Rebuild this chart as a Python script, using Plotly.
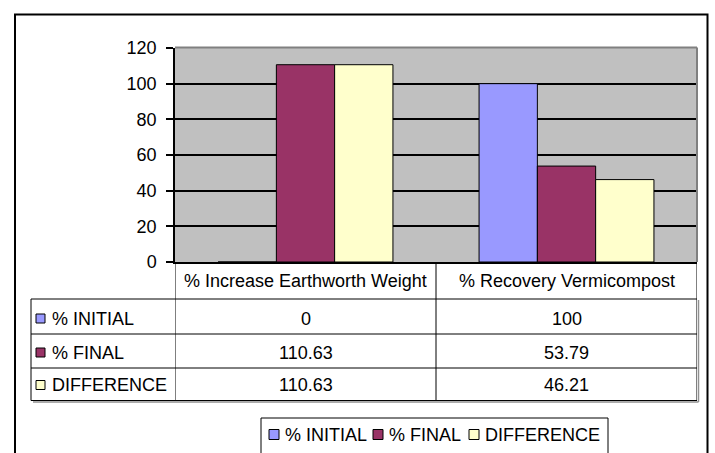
import plotly.graph_objects as go

# ---- data ----
categories = ["% Increase Earthworth Weight", "% Recovery Vermicompost"]
series_names = ["% INITIAL", "% FINAL", "DIFFERENCE"]
initial_vals = [0, 100]
final_vals = [110.63, 53.79]
difference_vals = [110.63, 46.21]
y_ticks = [0, 20, 40, 60, 80, 100, 120]

series_values = [initial_vals, final_vals, difference_vals]
series_colors = ["#9999FF", "#993366", "#FFFFCC"]

# ---- canvas geometry (pixels) ----
W, H = 715, 453
ML, MR, MT, MB = 175, 18, 48, 191
PW = W - ML - MR
PH = H - MT - MB
FONT = "Liberation Sans, Arial, sans-serif"
FS = 18


def fx(px):
    return (px - ML) / PW


def fy(py):
    return (H - MB - py) / PH


fig = go.Figure()
for name, vals, col in zip(series_names, series_values, series_colors):
    fig.add_trace(go.Bar(
        x=categories, y=vals, name=name,
        marker=dict(color=col, line=dict(color="black", width=1)),
        showlegend=False,
    ))

shapes = []
annotations = []


def line(x0, y0, x1, y1, color="black", width=1, xref="paper"):
    shapes.append(dict(type="line", xref=xref, yref="paper",
                       x0=x0, y0=y0, x1=x1, y1=y1,
                       line=dict(color=color, width=width), layer="above"))


# outer chart frame
shapes.append(dict(type="rect", xref="paper", yref="paper",
                   x0=fx(15), x1=fx(707.5), y0=fy(14.5), y1=fy(470),
                   line=dict(color="black", width=2), layer="above"))

# plot-area top and right edges
line(fx(175), fy(47.5), fx(697), fy(47.5), color="#808080", width=2)
line(fx(697), fy(47.5), fx(697), fy(262), color="#808080", width=2)

# ---- data table below the axis ----
row_lines = [299, 334, 368, 400.5]
row_text_y = [318.5, 352.5, 385]
header_y = 280.5
tab_left = 31
tab_right = 697

# table drop shadow
line(fx(tab_right + 1.5), fy(300), fx(tab_right + 1.5), fy(row_lines[-1] + 1.5), color="#909090", width=1.5)
line(fx(tab_left + 2), fy(row_lines[-1] + 1.5), fx(tab_right + 1.5), fy(row_lines[-1] + 1.5), color="#909090", width=1.5)

for yl in row_lines:
    line(fx(tab_left), fy(yl), fx(tab_right), fy(yl))
line(fx(tab_left), fy(row_lines[0]), fx(tab_left), fy(row_lines[-1]))
# column boundaries follow the category axis
for xb in [-0.5, 0.5, 1.5]:
    line(xb, fy(262), xb, fy(row_lines[-1]), xref="x")

for cat in categories:
    annotations.append(dict(x=cat, xref="x", y=fy(header_y), yref="paper",
                            text=cat, showarrow=False,
                            font=dict(family=FONT, size=FS, color="black"),
                            xanchor="center", yanchor="middle"))

for i, (name, vals, col) in enumerate(zip(series_names, series_values, series_colors)):
    ty = row_text_y[i]
    shapes.append(dict(type="rect", xref="paper", yref="paper",
                       x0=fx(36), x1=fx(45), y0=fy(ty - 4.5), y1=fy(ty + 4.5),
                       fillcolor=col, line=dict(color="black", width=1), layer="above"))
    annotations.append(dict(x=fx(50), xref="paper", y=fy(ty), yref="paper",
                            text=name, showarrow=False,
                            font=dict(family=FONT, size=FS, color="black"),
                            xanchor="left", yanchor="middle"))
    for cat, v in zip(categories, vals):
        annotations.append(dict(x=cat, xref="x", y=fy(ty), yref="paper",
                                text=f"{v:g}", showarrow=False,
                                font=dict(family=FONT, size=FS, color="black"),
                                xanchor="center", yanchor="middle"))

# ---- legend box ----
shapes.append(dict(type="rect", xref="paper", yref="paper",
                   x0=fx(261), x1=fx(608), y0=fy(418), y1=fy(470),
                   line=dict(color="black", width=1), layer="above"))
legend_y = 434.5
legend_swatch_x = [269, 373, 469]
for name, col, sx in zip(series_names, series_colors, legend_swatch_x):
    shapes.append(dict(type="rect", xref="paper", yref="paper",
                       x0=fx(sx), x1=fx(sx + 10), y0=fy(legend_y - 5), y1=fy(legend_y + 5),
                       fillcolor=col, line=dict(color="black", width=1), layer="above"))
    annotations.append(dict(x=fx(sx + 14), xref="paper", y=fy(legend_y), yref="paper",
                            text=name, showarrow=False,
                            font=dict(family=FONT, size=FS, color="black"),
                            xanchor="left", yanchor="middle"))

fig.update_layout(
    width=W, height=H,
    margin=dict(l=ML, r=MR, t=MT, b=MB, pad=0),
    paper_bgcolor="white",
    plot_bgcolor="#C0C0C0",
    barmode="group",
    bargap=0.33,
    bargroupgap=0,
    shapes=shapes,
    annotations=annotations,
    showlegend=False,
    font=dict(family=FONT, size=FS, color="black"),
    xaxis=dict(showticklabels=False, showgrid=False, zeroline=False,
               showline=True, linecolor="black", linewidth=1.5,
               ticks="", range=[-0.5, 1.5], fixedrange=True),
    yaxis=dict(range=[0, 120], tickvals=y_ticks, ticktext=[str(t) for t in y_ticks],
               showgrid=True, gridcolor="black", gridwidth=1.5,
               zeroline=False, showline=True, linecolor="black", linewidth=1.5,
               ticks="outside", ticklen=7, tickcolor="black", tickwidth=1.5,
               ticklabelstandoff=6,
               tickfont=dict(family=FONT, size=FS, color="black"), fixedrange=True),
)

fig.write_html("out.html")
